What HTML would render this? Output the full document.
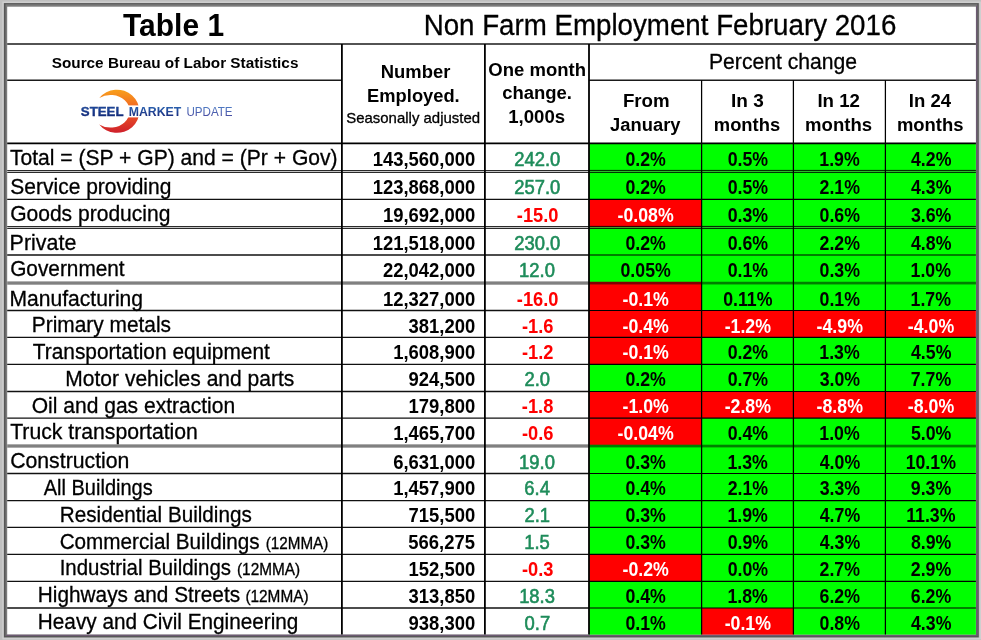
<!DOCTYPE html><html><head><meta charset="utf-8"><title>Table 1</title><style>html,body{margin:0;padding:0;background:#c0c0c0}svg{display:block}text{font-family:"Liberation Sans",sans-serif}</style></head><body>
<svg width="981" height="640" viewBox="0 0 981 640">
<defs><linearGradient id="og" gradientUnits="userSpaceOnUse" x1="0" y1="89.5" x2="0" y2="133"><stop offset="0" stop-color="#f9a11b"/><stop offset="0.5" stop-color="#ee5a24"/><stop offset="1" stop-color="#cf1f2b"/></linearGradient><linearGradient id="bg1" gradientUnits="userSpaceOnUse" x1="0" y1="106.5" x2="0" y2="116"><stop offset="0" stop-color="#1f4fa3"/><stop offset="1" stop-color="#14297a"/></linearGradient><linearGradient id="bg2" gradientUnits="userSpaceOnUse" x1="0" y1="106.5" x2="0" y2="116"><stop offset="0" stop-color="#2a62b0"/><stop offset="1" stop-color="#1b2f80"/></linearGradient><linearGradient id="bg3" gradientUnits="userSpaceOnUse" x1="0" y1="106.5" x2="0" y2="116"><stop offset="0" stop-color="#4f7cc4"/><stop offset="1" stop-color="#4a4fa3"/></linearGradient></defs>
<rect x="0" y="0" width="981" height="640" fill="#c0c0c0"/>
<rect x="3.0" y="2.2" width="977.2" height="636.6" fill="none" stroke="#d2d2d2" stroke-width="1.2"/>
<rect x="3.9" y="3.1" width="974.9" height="634.3" fill="#575757"/>
<rect x="5.5" y="4.3" width="971.8" height="631.7" fill="#7b7b7b"/>
<path d="M977.3,4.3 V636 H5.5 L7.2,634.4 H975.9 V6.7 Z" fill="#6d5a73"/>
<rect x="7.2" y="6.7" width="968.6999999999999" height="627.6999999999999" fill="#ffffff"/>
<rect x="589.0" y="143.3" width="112.6" height="28.1" fill="#00ff00"/>
<rect x="701.6" y="143.3" width="91.8" height="28.1" fill="#00ff00"/>
<rect x="793.4" y="143.3" width="92.0" height="28.1" fill="#00ff00"/>
<rect x="885.4" y="143.3" width="90.5" height="28.1" fill="#00ff00"/>
<rect x="589.0" y="171.4" width="112.6" height="28.0" fill="#00ff00"/>
<rect x="701.6" y="171.4" width="91.8" height="28.0" fill="#00ff00"/>
<rect x="793.4" y="171.4" width="92.0" height="28.0" fill="#00ff00"/>
<rect x="885.4" y="171.4" width="90.5" height="28.0" fill="#00ff00"/>
<rect x="589.0" y="199.4" width="112.6" height="28.0" fill="#ff0000"/>
<rect x="701.6" y="199.4" width="91.8" height="28.0" fill="#00ff00"/>
<rect x="793.4" y="199.4" width="92.0" height="28.0" fill="#00ff00"/>
<rect x="885.4" y="199.4" width="90.5" height="28.0" fill="#00ff00"/>
<rect x="589.0" y="227.4" width="112.6" height="27.6" fill="#00ff00"/>
<rect x="701.6" y="227.4" width="91.8" height="27.6" fill="#00ff00"/>
<rect x="793.4" y="227.4" width="92.0" height="27.6" fill="#00ff00"/>
<rect x="885.4" y="227.4" width="90.5" height="27.6" fill="#00ff00"/>
<rect x="589.0" y="255.0" width="112.6" height="27.5" fill="#00ff00"/>
<rect x="701.6" y="255.0" width="91.8" height="27.5" fill="#00ff00"/>
<rect x="793.4" y="255.0" width="92.0" height="27.5" fill="#00ff00"/>
<rect x="885.4" y="255.0" width="90.5" height="27.5" fill="#00ff00"/>
<rect x="589.0" y="282.5" width="112.6" height="28.0" fill="#ff0000"/>
<rect x="701.6" y="282.5" width="91.8" height="28.0" fill="#00ff00"/>
<rect x="793.4" y="282.5" width="92.0" height="28.0" fill="#00ff00"/>
<rect x="885.4" y="282.5" width="90.5" height="28.0" fill="#00ff00"/>
<rect x="589.0" y="310.5" width="112.6" height="26.8" fill="#ff0000"/>
<rect x="701.6" y="310.5" width="91.8" height="26.8" fill="#ff0000"/>
<rect x="793.4" y="310.5" width="92.0" height="26.8" fill="#ff0000"/>
<rect x="885.4" y="310.5" width="90.5" height="26.8" fill="#ff0000"/>
<rect x="589.0" y="337.3" width="112.6" height="27.1" fill="#ff0000"/>
<rect x="701.6" y="337.3" width="91.8" height="27.1" fill="#00ff00"/>
<rect x="793.4" y="337.3" width="92.0" height="27.1" fill="#00ff00"/>
<rect x="885.4" y="337.3" width="90.5" height="27.1" fill="#00ff00"/>
<rect x="589.0" y="364.4" width="112.6" height="27.1" fill="#00ff00"/>
<rect x="701.6" y="364.4" width="91.8" height="27.1" fill="#00ff00"/>
<rect x="793.4" y="364.4" width="92.0" height="27.1" fill="#00ff00"/>
<rect x="885.4" y="364.4" width="90.5" height="27.1" fill="#00ff00"/>
<rect x="589.0" y="391.5" width="112.6" height="26.6" fill="#ff0000"/>
<rect x="701.6" y="391.5" width="91.8" height="26.6" fill="#ff0000"/>
<rect x="793.4" y="391.5" width="92.0" height="26.6" fill="#ff0000"/>
<rect x="885.4" y="391.5" width="90.5" height="26.6" fill="#ff0000"/>
<rect x="589.0" y="418.1" width="112.6" height="27.7" fill="#ff0000"/>
<rect x="701.6" y="418.1" width="91.8" height="27.7" fill="#00ff00"/>
<rect x="793.4" y="418.1" width="92.0" height="27.7" fill="#00ff00"/>
<rect x="885.4" y="418.1" width="90.5" height="27.7" fill="#00ff00"/>
<rect x="589.0" y="445.8" width="112.6" height="27.7" fill="#00ff00"/>
<rect x="701.6" y="445.8" width="91.8" height="27.7" fill="#00ff00"/>
<rect x="793.4" y="445.8" width="92.0" height="27.7" fill="#00ff00"/>
<rect x="885.4" y="445.8" width="90.5" height="27.7" fill="#00ff00"/>
<rect x="589.0" y="473.5" width="112.6" height="27.1" fill="#00ff00"/>
<rect x="701.6" y="473.5" width="91.8" height="27.1" fill="#00ff00"/>
<rect x="793.4" y="473.5" width="92.0" height="27.1" fill="#00ff00"/>
<rect x="885.4" y="473.5" width="90.5" height="27.1" fill="#00ff00"/>
<rect x="589.0" y="500.6" width="112.6" height="26.7" fill="#00ff00"/>
<rect x="701.6" y="500.6" width="91.8" height="26.7" fill="#00ff00"/>
<rect x="793.4" y="500.6" width="92.0" height="26.7" fill="#00ff00"/>
<rect x="885.4" y="500.6" width="90.5" height="26.7" fill="#00ff00"/>
<rect x="589.0" y="527.3" width="112.6" height="27.1" fill="#00ff00"/>
<rect x="701.6" y="527.3" width="91.8" height="27.1" fill="#00ff00"/>
<rect x="793.4" y="527.3" width="92.0" height="27.1" fill="#00ff00"/>
<rect x="885.4" y="527.3" width="90.5" height="27.1" fill="#00ff00"/>
<rect x="589.0" y="554.4" width="112.6" height="26.9" fill="#ff0000"/>
<rect x="701.6" y="554.4" width="91.8" height="26.9" fill="#00ff00"/>
<rect x="793.4" y="554.4" width="92.0" height="26.9" fill="#00ff00"/>
<rect x="885.4" y="554.4" width="90.5" height="26.9" fill="#00ff00"/>
<rect x="589.0" y="581.3" width="112.6" height="26.7" fill="#00ff00"/>
<rect x="701.6" y="581.3" width="91.8" height="26.7" fill="#00ff00"/>
<rect x="793.4" y="581.3" width="92.0" height="26.7" fill="#00ff00"/>
<rect x="885.4" y="581.3" width="90.5" height="26.7" fill="#00ff00"/>
<rect x="589.0" y="608.0" width="112.6" height="26.6" fill="#00ff00"/>
<rect x="701.6" y="608.0" width="91.8" height="26.6" fill="#ff0000"/>
<rect x="793.4" y="608.0" width="92.0" height="26.6" fill="#00ff00"/>
<rect x="885.4" y="608.0" width="90.5" height="26.6" fill="#00ff00"/>
<line x1="7.2" y1="44.0" x2="975.9" y2="44.0" stroke="#1a1a1a" stroke-width="1.6"/>
<line x1="7.2" y1="80.3" x2="341.9" y2="80.3" stroke="#1a1a1a" stroke-width="1.5"/>
<line x1="589.0" y1="80.3" x2="975.9" y2="80.3" stroke="#1a1a1a" stroke-width="1.5"/>
<line x1="7.2" y1="143.3" x2="975.9" y2="143.3" stroke="#000" stroke-width="1.7"/>
<rect x="7.2" y="170.8" width="581.8" height="1.2" fill="#c4c4c4"/>
<rect x="589.0" y="170.0" width="386.9" height="2.8" fill="#000" fill-opacity="0.2"/>
<line x1="7.2" y1="170.4" x2="589.0" y2="170.4" stroke="#2a2a2a" stroke-width="1.05"/>
<line x1="7.2" y1="172.4" x2="589.0" y2="172.4" stroke="#2a2a2a" stroke-width="1.05"/>
<line x1="589.0" y1="170.4" x2="975.9" y2="170.4" stroke="#000" stroke-width="0.85"/>
<line x1="589.0" y1="172.4" x2="975.9" y2="172.4" stroke="#000" stroke-width="0.85"/>
<line x1="7.2" y1="199.4" x2="589.0" y2="199.4" stroke="#111" stroke-width="1.3"/>
<line x1="589.0" y1="199.4" x2="975.9" y2="199.4" stroke="#000" stroke-width="1.15"/>
<rect x="7.2" y="226.8" width="581.8" height="1.2" fill="#c4c4c4"/>
<rect x="589.0" y="226.0" width="386.9" height="2.8" fill="#000" fill-opacity="0.2"/>
<line x1="7.2" y1="226.4" x2="589.0" y2="226.4" stroke="#2a2a2a" stroke-width="1.05"/>
<line x1="7.2" y1="228.4" x2="589.0" y2="228.4" stroke="#2a2a2a" stroke-width="1.05"/>
<line x1="589.0" y1="226.4" x2="975.9" y2="226.4" stroke="#000" stroke-width="0.85"/>
<line x1="589.0" y1="228.4" x2="975.9" y2="228.4" stroke="#000" stroke-width="0.85"/>
<line x1="7.2" y1="255.0" x2="589.0" y2="255.0" stroke="#111" stroke-width="1.3"/>
<line x1="589.0" y1="255.0" x2="975.9" y2="255.0" stroke="#000" stroke-width="1.15"/>
<rect x="7.2" y="281.40" width="581.8" height="3.3" fill="#808080"/>
<rect x="589.0" y="281.75" width="112.6" height="2.7" fill="#800000"/>
<rect x="701.6" y="281.75" width="91.8" height="2.7" fill="#008000"/>
<rect x="793.4" y="281.75" width="92.0" height="2.7" fill="#008000"/>
<rect x="885.4" y="281.75" width="90.5" height="2.7" fill="#008000"/>
<line x1="7.2" y1="310.5" x2="589.0" y2="310.5" stroke="#111" stroke-width="1.3"/>
<line x1="589.0" y1="310.5" x2="975.9" y2="310.5" stroke="#000" stroke-width="1.15"/>
<line x1="7.2" y1="337.3" x2="589.0" y2="337.3" stroke="#111" stroke-width="1.3"/>
<line x1="589.0" y1="337.3" x2="975.9" y2="337.3" stroke="#000" stroke-width="1.15"/>
<line x1="7.2" y1="364.4" x2="589.0" y2="364.4" stroke="#111" stroke-width="1.3"/>
<line x1="589.0" y1="364.4" x2="975.9" y2="364.4" stroke="#000" stroke-width="1.15"/>
<line x1="7.2" y1="391.5" x2="589.0" y2="391.5" stroke="#111" stroke-width="1.3"/>
<line x1="589.0" y1="391.5" x2="975.9" y2="391.5" stroke="#000" stroke-width="1.15"/>
<line x1="7.2" y1="418.1" x2="589.0" y2="418.1" stroke="#111" stroke-width="1.3"/>
<line x1="589.0" y1="418.1" x2="975.9" y2="418.1" stroke="#000" stroke-width="1.15"/>
<rect x="7.2" y="444.35" width="581.8" height="3.3" fill="#808080"/>
<rect x="589.0" y="444.70" width="112.6" height="2.7" fill="#008000"/>
<rect x="701.6" y="444.70" width="91.8" height="2.7" fill="#008000"/>
<rect x="793.4" y="444.70" width="92.0" height="2.7" fill="#008000"/>
<rect x="885.4" y="444.70" width="90.5" height="2.7" fill="#008000"/>
<line x1="7.2" y1="473.5" x2="589.0" y2="473.5" stroke="#111" stroke-width="1.3"/>
<line x1="589.0" y1="473.5" x2="975.9" y2="473.5" stroke="#000" stroke-width="1.15"/>
<line x1="7.2" y1="500.6" x2="589.0" y2="500.6" stroke="#111" stroke-width="1.3"/>
<line x1="589.0" y1="500.6" x2="975.9" y2="500.6" stroke="#000" stroke-width="1.15"/>
<line x1="7.2" y1="527.3" x2="589.0" y2="527.3" stroke="#111" stroke-width="1.3"/>
<line x1="589.0" y1="527.3" x2="975.9" y2="527.3" stroke="#000" stroke-width="1.15"/>
<line x1="7.2" y1="554.4" x2="589.0" y2="554.4" stroke="#111" stroke-width="1.3"/>
<line x1="589.0" y1="554.4" x2="975.9" y2="554.4" stroke="#000" stroke-width="1.15"/>
<line x1="7.2" y1="581.3" x2="589.0" y2="581.3" stroke="#111" stroke-width="1.3"/>
<line x1="589.0" y1="581.3" x2="975.9" y2="581.3" stroke="#000" stroke-width="1.15"/>
<line x1="7.2" y1="608.0" x2="589.0" y2="608.0" stroke="#111" stroke-width="1.3"/>
<line x1="589.0" y1="608.0" x2="975.9" y2="608.0" stroke="#000" stroke-width="1.15"/>
<line x1="341.9" y1="44.0" x2="341.9" y2="634.4" stroke="#000" stroke-width="1.8"/>
<line x1="484.9" y1="44.0" x2="484.9" y2="634.4" stroke="#000" stroke-width="1.8"/>
<line x1="589.0" y1="44.0" x2="589.0" y2="634.4" stroke="#000" stroke-width="1.8"/>
<line x1="701.6" y1="80.3" x2="701.6" y2="634.4" stroke="#000" stroke-width="1.25"/>
<line x1="793.4" y1="80.3" x2="793.4" y2="634.4" stroke="#000" stroke-width="1.25"/>
<line x1="885.4" y1="80.3" x2="885.4" y2="634.4" stroke="#000" stroke-width="1.25"/>
<text x="123.00" y="35.8" font-size="31.62" textLength="101.10" lengthAdjust="spacingAndGlyphs" font-weight="bold">Table 1</text>
<text x="423.68" y="34.6" font-size="28.60" textLength="472.65" lengthAdjust="spacingAndGlyphs" stroke="#000" stroke-width="0.3">Non Farm Employment February 2016</text>
<text x="51.74" y="67.8" font-size="15.18" textLength="246.67" lengthAdjust="spacingAndGlyphs" font-weight="bold">Source Bureau of Labor Statistics</text>
<text x="380.80" y="77.5" font-size="18.82" textLength="69.54" lengthAdjust="spacingAndGlyphs" font-weight="bold">Number</text>
<text x="367.11" y="101.7" font-size="18.82" textLength="92.61" lengthAdjust="spacingAndGlyphs" font-weight="bold">Employed.</text>
<text x="346.23" y="122.6" font-size="15.18" textLength="133.86" lengthAdjust="spacingAndGlyphs" stroke="#000" stroke-width="0.3">Seasonally adjusted</text>
<text x="488.36" y="75.7" font-size="18.93" textLength="97.59" lengthAdjust="spacingAndGlyphs" font-weight="bold">One month</text>
<text x="502.16" y="99.2" font-size="18.93" textLength="69.81" lengthAdjust="spacingAndGlyphs" font-weight="bold">change.</text>
<text x="508.29" y="123.2" font-size="18.93" textLength="56.83" lengthAdjust="spacingAndGlyphs" font-weight="bold">1,000s</text>
<text x="709.01" y="68.9" font-size="21.53" textLength="148.04" lengthAdjust="spacingAndGlyphs" stroke="#000" stroke-width="0.3">Percent change</text>
<text x="622.89" y="106.9" font-size="19.14" textLength="46.73" lengthAdjust="spacingAndGlyphs" font-weight="bold">From</text>
<text x="610.12" y="130.7" font-size="19.14" textLength="70.38" lengthAdjust="spacingAndGlyphs" font-weight="bold">January</text>
<text x="731.06" y="106.9" font-size="19.14" textLength="32.75" lengthAdjust="spacingAndGlyphs" font-weight="bold">In 3</text>
<text x="713.81" y="130.9" font-size="19.14" textLength="66.35" lengthAdjust="spacingAndGlyphs" font-weight="bold">months</text>
<text x="817.39" y="106.9" font-size="19.14" textLength="42.54" lengthAdjust="spacingAndGlyphs" font-weight="bold">In 12</text>
<text x="805.09" y="130.9" font-size="19.14" textLength="66.96" lengthAdjust="spacingAndGlyphs" font-weight="bold">months</text>
<text x="908.79" y="106.9" font-size="19.14" textLength="42.28" lengthAdjust="spacingAndGlyphs" font-weight="bold">In 24</text>
<text x="896.90" y="130.9" font-size="19.14" textLength="66.66" lengthAdjust="spacingAndGlyphs" font-weight="bold">months</text>
<g id="logo">
<path d="M99.3,98.0 A22.4,21.6 0 1 1 99.2,124.4 A19.15,16.3 0 1 0 99.3,98.0 Z" fill="url(#og)"/>
<rect x="78" y="105.4" width="160" height="12" fill="#fff"/>
<text x="80.8" y="115.6" font-size="12.2" font-weight="bold" fill="url(#bg1)" stroke="#17357f" stroke-width="0.35" textLength="42.7" lengthAdjust="spacingAndGlyphs">STEEL</text>
<text x="128.7" y="115.6" font-size="12.2" font-weight="bold" fill="url(#bg2)" textLength="52.5" lengthAdjust="spacingAndGlyphs">MARKET</text>
<text x="186.4" y="115.6" font-size="12.2" fill="url(#bg3)" textLength="46.2" lengthAdjust="spacingAndGlyphs">UPDATE</text>
</g>
<text x="9.97" y="165.1" font-size="21.53" textLength="327.58" lengthAdjust="spacingAndGlyphs" stroke="#000" stroke-width="0.3">Total = (SP + GP) and = (Pr + Gov)</text>
<text x="372.66" y="165.7" font-size="19.76" textLength="102.60" lengthAdjust="spacingAndGlyphs" font-weight="bold">143,560,000</text>
<text x="514.21" y="165.7" font-size="19.76" textLength="46.05" lengthAdjust="spacingAndGlyphs" fill="#1e8c5a" stroke="#1e8c5a" stroke-width="0.6">242.0</text>
<text x="625.44" y="165.7" font-size="19.76" textLength="40.45" lengthAdjust="spacingAndGlyphs" font-weight="bold" fill="#000000">0.2%</text>
<text x="727.64" y="165.7" font-size="19.76" textLength="40.45" lengthAdjust="spacingAndGlyphs" font-weight="bold" fill="#000000">0.5%</text>
<text x="819.32" y="165.7" font-size="19.76" textLength="40.45" lengthAdjust="spacingAndGlyphs" font-weight="bold" fill="#000000">1.9%</text>
<text x="911.01" y="165.7" font-size="19.76" textLength="40.45" lengthAdjust="spacingAndGlyphs" font-weight="bold" fill="#000000">4.2%</text>
<text x="10.31" y="193.6" font-size="21.53" textLength="161.07" lengthAdjust="spacingAndGlyphs" stroke="#000" stroke-width="0.3">Service providing</text>
<text x="372.66" y="194.2" font-size="19.76" textLength="102.60" lengthAdjust="spacingAndGlyphs" font-weight="bold">123,868,000</text>
<text x="514.21" y="194.2" font-size="19.76" textLength="46.05" lengthAdjust="spacingAndGlyphs" fill="#1e8c5a" stroke="#1e8c5a" stroke-width="0.6">257.0</text>
<text x="625.44" y="194.2" font-size="19.76" textLength="40.45" lengthAdjust="spacingAndGlyphs" font-weight="bold" fill="#000000">0.2%</text>
<text x="727.64" y="194.2" font-size="19.76" textLength="40.45" lengthAdjust="spacingAndGlyphs" font-weight="bold" fill="#000000">0.5%</text>
<text x="819.58" y="194.2" font-size="19.76" textLength="40.45" lengthAdjust="spacingAndGlyphs" font-weight="bold" fill="#000000">2.1%</text>
<text x="911.01" y="194.2" font-size="19.76" textLength="40.45" lengthAdjust="spacingAndGlyphs" font-weight="bold" fill="#000000">4.3%</text>
<text x="10.15" y="221.0" font-size="21.53" textLength="160.25" lengthAdjust="spacingAndGlyphs" stroke="#000" stroke-width="0.3">Goods producing</text>
<text x="382.90" y="221.6" font-size="19.76" textLength="92.34" lengthAdjust="spacingAndGlyphs" font-weight="bold">19,692,000</text>
<text x="516.84" y="221.6" font-size="19.76" textLength="41.71" lengthAdjust="spacingAndGlyphs" font-weight="bold" fill="#ff0000">-15.0</text>
<text x="617.54" y="221.6" font-size="19.76" textLength="56.23" lengthAdjust="spacingAndGlyphs" font-weight="bold" fill="#ffffff">-0.08%</text>
<text x="727.64" y="221.6" font-size="19.76" textLength="40.45" lengthAdjust="spacingAndGlyphs" font-weight="bold" fill="#000000">0.3%</text>
<text x="819.54" y="221.6" font-size="19.76" textLength="40.45" lengthAdjust="spacingAndGlyphs" font-weight="bold" fill="#000000">0.6%</text>
<text x="910.92" y="221.6" font-size="19.76" textLength="40.45" lengthAdjust="spacingAndGlyphs" font-weight="bold" fill="#000000">3.6%</text>
<text x="9.58" y="249.7" font-size="21.53" textLength="66.73" lengthAdjust="spacingAndGlyphs" stroke="#000" stroke-width="0.3">Private</text>
<text x="372.66" y="250.3" font-size="19.76" textLength="102.60" lengthAdjust="spacingAndGlyphs" font-weight="bold">121,518,000</text>
<text x="514.21" y="250.3" font-size="19.76" textLength="46.05" lengthAdjust="spacingAndGlyphs" fill="#1e8c5a" stroke="#1e8c5a" stroke-width="0.6">230.0</text>
<text x="625.44" y="250.3" font-size="19.76" textLength="40.45" lengthAdjust="spacingAndGlyphs" font-weight="bold" fill="#000000">0.2%</text>
<text x="727.64" y="250.3" font-size="19.76" textLength="40.45" lengthAdjust="spacingAndGlyphs" font-weight="bold" fill="#000000">0.6%</text>
<text x="819.58" y="250.3" font-size="19.76" textLength="40.45" lengthAdjust="spacingAndGlyphs" font-weight="bold" fill="#000000">2.2%</text>
<text x="911.01" y="250.3" font-size="19.76" textLength="40.45" lengthAdjust="spacingAndGlyphs" font-weight="bold" fill="#000000">4.8%</text>
<text x="10.16" y="276.4" font-size="21.53" textLength="114.50" lengthAdjust="spacingAndGlyphs" stroke="#000" stroke-width="0.3">Government</text>
<text x="382.90" y="277.0" font-size="19.76" textLength="92.34" lengthAdjust="spacingAndGlyphs" font-weight="bold">22,042,000</text>
<text x="519.08" y="277.0" font-size="19.76" textLength="35.81" lengthAdjust="spacingAndGlyphs" fill="#1e8c5a" stroke="#1e8c5a" stroke-width="0.6">12.0</text>
<text x="620.51" y="277.0" font-size="19.76" textLength="50.32" lengthAdjust="spacingAndGlyphs" font-weight="bold" fill="#000000">0.05%</text>
<text x="727.64" y="277.0" font-size="19.76" textLength="40.45" lengthAdjust="spacingAndGlyphs" font-weight="bold" fill="#000000">0.1%</text>
<text x="819.54" y="277.0" font-size="19.76" textLength="40.45" lengthAdjust="spacingAndGlyphs" font-weight="bold" fill="#000000">0.3%</text>
<text x="910.57" y="277.0" font-size="19.76" textLength="40.45" lengthAdjust="spacingAndGlyphs" font-weight="bold" fill="#000000">1.0%</text>
<text x="9.51" y="305.6" font-size="21.53" textLength="133.50" lengthAdjust="spacingAndGlyphs" stroke="#000" stroke-width="0.3">Manufacturing</text>
<text x="382.90" y="306.2" font-size="19.76" textLength="92.34" lengthAdjust="spacingAndGlyphs" font-weight="bold">12,327,000</text>
<text x="516.84" y="306.2" font-size="19.76" textLength="41.71" lengthAdjust="spacingAndGlyphs" font-weight="bold" fill="#ff0000">-16.0</text>
<text x="622.47" y="306.2" font-size="19.76" textLength="46.36" lengthAdjust="spacingAndGlyphs" font-weight="bold" fill="#ffffff">-0.1%</text>
<text x="723.20" y="306.2" font-size="19.76" textLength="49.34" lengthAdjust="spacingAndGlyphs" font-weight="bold" fill="#000000">0.11%</text>
<text x="819.54" y="306.2" font-size="19.76" textLength="40.45" lengthAdjust="spacingAndGlyphs" font-weight="bold" fill="#000000">0.1%</text>
<text x="910.57" y="306.2" font-size="19.76" textLength="40.45" lengthAdjust="spacingAndGlyphs" font-weight="bold" fill="#000000">1.7%</text>
<text x="31.83" y="332.3" font-size="21.53" textLength="139.15" lengthAdjust="spacingAndGlyphs" stroke="#000" stroke-width="0.3">Primary metals</text>
<text x="408.54" y="332.9" font-size="19.76" textLength="66.69" lengthAdjust="spacingAndGlyphs" font-weight="bold">381,200</text>
<text x="521.92" y="332.9" font-size="19.76" textLength="31.53" lengthAdjust="spacingAndGlyphs" font-weight="bold" fill="#ff0000">-1.6</text>
<text x="622.47" y="332.9" font-size="19.76" textLength="46.36" lengthAdjust="spacingAndGlyphs" font-weight="bold" fill="#ffffff">-0.4%</text>
<text x="724.67" y="332.9" font-size="19.76" textLength="46.36" lengthAdjust="spacingAndGlyphs" font-weight="bold" fill="#ffffff">-1.2%</text>
<text x="816.57" y="332.9" font-size="19.76" textLength="46.36" lengthAdjust="spacingAndGlyphs" font-weight="bold" fill="#ffffff">-4.9%</text>
<text x="907.82" y="332.9" font-size="19.76" textLength="46.36" lengthAdjust="spacingAndGlyphs" font-weight="bold" fill="#ffffff">-4.0%</text>
<text x="32.78" y="358.8" font-size="21.53" textLength="237.10" lengthAdjust="spacingAndGlyphs" stroke="#000" stroke-width="0.3">Transportation equipment</text>
<text x="393.14" y="359.4" font-size="19.76" textLength="82.08" lengthAdjust="spacingAndGlyphs" font-weight="bold">1,608,900</text>
<text x="521.96" y="359.4" font-size="19.76" textLength="31.53" lengthAdjust="spacingAndGlyphs" font-weight="bold" fill="#ff0000">-1.2</text>
<text x="622.47" y="359.4" font-size="19.76" textLength="46.36" lengthAdjust="spacingAndGlyphs" font-weight="bold" fill="#ffffff">-0.1%</text>
<text x="727.64" y="359.4" font-size="19.76" textLength="40.45" lengthAdjust="spacingAndGlyphs" font-weight="bold" fill="#000000">0.2%</text>
<text x="819.32" y="359.4" font-size="19.76" textLength="40.45" lengthAdjust="spacingAndGlyphs" font-weight="bold" fill="#000000">1.3%</text>
<text x="911.01" y="359.4" font-size="19.76" textLength="40.45" lengthAdjust="spacingAndGlyphs" font-weight="bold" fill="#000000">4.5%</text>
<text x="65.32" y="385.5" font-size="21.53" textLength="229.00" lengthAdjust="spacingAndGlyphs" stroke="#000" stroke-width="0.3">Motor vehicles and parts</text>
<text x="408.54" y="386.1" font-size="19.76" textLength="66.69" lengthAdjust="spacingAndGlyphs" font-weight="bold">924,500</text>
<text x="524.42" y="386.1" font-size="19.76" textLength="25.58" lengthAdjust="spacingAndGlyphs" fill="#1e8c5a" stroke="#1e8c5a" stroke-width="0.6">2.0</text>
<text x="625.44" y="386.1" font-size="19.76" textLength="40.45" lengthAdjust="spacingAndGlyphs" font-weight="bold" fill="#000000">0.2%</text>
<text x="727.64" y="386.1" font-size="19.76" textLength="40.45" lengthAdjust="spacingAndGlyphs" font-weight="bold" fill="#000000">0.7%</text>
<text x="819.67" y="386.1" font-size="19.76" textLength="40.45" lengthAdjust="spacingAndGlyphs" font-weight="bold" fill="#000000">3.0%</text>
<text x="910.74" y="386.1" font-size="19.76" textLength="40.45" lengthAdjust="spacingAndGlyphs" font-weight="bold" fill="#000000">7.7%</text>
<text x="31.75" y="412.7" font-size="21.53" textLength="203.36" lengthAdjust="spacingAndGlyphs" stroke="#000" stroke-width="0.3">Oil and gas extraction</text>
<text x="408.54" y="413.3" font-size="19.76" textLength="66.69" lengthAdjust="spacingAndGlyphs" font-weight="bold">179,800</text>
<text x="521.87" y="413.3" font-size="19.76" textLength="31.53" lengthAdjust="spacingAndGlyphs" font-weight="bold" fill="#ff0000">-1.8</text>
<text x="622.47" y="413.3" font-size="19.76" textLength="46.36" lengthAdjust="spacingAndGlyphs" font-weight="bold" fill="#ffffff">-1.0%</text>
<text x="724.67" y="413.3" font-size="19.76" textLength="46.36" lengthAdjust="spacingAndGlyphs" font-weight="bold" fill="#ffffff">-2.8%</text>
<text x="816.57" y="413.3" font-size="19.76" textLength="46.36" lengthAdjust="spacingAndGlyphs" font-weight="bold" fill="#ffffff">-8.8%</text>
<text x="907.82" y="413.3" font-size="19.76" textLength="46.36" lengthAdjust="spacingAndGlyphs" font-weight="bold" fill="#ffffff">-8.0%</text>
<text x="10.17" y="439.2" font-size="21.53" textLength="187.72" lengthAdjust="spacingAndGlyphs" stroke="#000" stroke-width="0.3">Truck transportation</text>
<text x="393.14" y="439.8" font-size="19.76" textLength="82.08" lengthAdjust="spacingAndGlyphs" font-weight="bold">1,465,700</text>
<text x="521.92" y="439.8" font-size="19.76" textLength="31.53" lengthAdjust="spacingAndGlyphs" font-weight="bold" fill="#ff0000">-0.6</text>
<text x="617.54" y="439.8" font-size="19.76" textLength="56.23" lengthAdjust="spacingAndGlyphs" font-weight="bold" fill="#ffffff">-0.04%</text>
<text x="727.64" y="439.8" font-size="19.76" textLength="40.45" lengthAdjust="spacingAndGlyphs" font-weight="bold" fill="#000000">0.4%</text>
<text x="819.32" y="439.8" font-size="19.76" textLength="40.45" lengthAdjust="spacingAndGlyphs" font-weight="bold" fill="#000000">1.0%</text>
<text x="910.88" y="439.8" font-size="19.76" textLength="40.45" lengthAdjust="spacingAndGlyphs" font-weight="bold" fill="#000000">5.0%</text>
<text x="10.14" y="468.3" font-size="21.53" textLength="119.32" lengthAdjust="spacingAndGlyphs" stroke="#000" stroke-width="0.3">Construction</text>
<text x="393.14" y="468.9" font-size="19.76" textLength="82.08" lengthAdjust="spacingAndGlyphs" font-weight="bold">6,631,000</text>
<text x="519.08" y="468.9" font-size="19.76" textLength="35.81" lengthAdjust="spacingAndGlyphs" fill="#1e8c5a" stroke="#1e8c5a" stroke-width="0.6">19.0</text>
<text x="625.44" y="468.9" font-size="19.76" textLength="40.45" lengthAdjust="spacingAndGlyphs" font-weight="bold" fill="#000000">0.3%</text>
<text x="727.42" y="468.9" font-size="19.76" textLength="40.45" lengthAdjust="spacingAndGlyphs" font-weight="bold" fill="#000000">1.3%</text>
<text x="819.76" y="468.9" font-size="19.76" textLength="40.45" lengthAdjust="spacingAndGlyphs" font-weight="bold" fill="#000000">4.0%</text>
<text x="905.64" y="468.9" font-size="19.76" textLength="50.32" lengthAdjust="spacingAndGlyphs" font-weight="bold" fill="#000000">10.1%</text>
<text x="43.70" y="494.7" font-size="21.53" textLength="109.05" lengthAdjust="spacingAndGlyphs" stroke="#000" stroke-width="0.3">All Buildings</text>
<text x="393.14" y="495.3" font-size="19.76" textLength="82.08" lengthAdjust="spacingAndGlyphs" font-weight="bold">1,457,900</text>
<text x="524.33" y="495.3" font-size="19.76" textLength="25.58" lengthAdjust="spacingAndGlyphs" fill="#1e8c5a" stroke="#1e8c5a" stroke-width="0.6">6.4</text>
<text x="625.44" y="495.3" font-size="19.76" textLength="40.45" lengthAdjust="spacingAndGlyphs" font-weight="bold" fill="#000000">0.4%</text>
<text x="727.68" y="495.3" font-size="19.76" textLength="40.45" lengthAdjust="spacingAndGlyphs" font-weight="bold" fill="#000000">2.1%</text>
<text x="819.67" y="495.3" font-size="19.76" textLength="40.45" lengthAdjust="spacingAndGlyphs" font-weight="bold" fill="#000000">3.3%</text>
<text x="910.83" y="495.3" font-size="19.76" textLength="40.45" lengthAdjust="spacingAndGlyphs" font-weight="bold" fill="#000000">9.3%</text>
<text x="59.85" y="521.7" font-size="21.53" textLength="191.95" lengthAdjust="spacingAndGlyphs" stroke="#000" stroke-width="0.3">Residential Buildings</text>
<text x="408.54" y="522.3" font-size="19.76" textLength="66.69" lengthAdjust="spacingAndGlyphs" font-weight="bold">715,500</text>
<text x="524.51" y="522.3" font-size="19.76" textLength="25.58" lengthAdjust="spacingAndGlyphs" fill="#1e8c5a" stroke="#1e8c5a" stroke-width="0.6">2.1</text>
<text x="625.44" y="522.3" font-size="19.76" textLength="40.45" lengthAdjust="spacingAndGlyphs" font-weight="bold" fill="#000000">0.3%</text>
<text x="727.42" y="522.3" font-size="19.76" textLength="40.45" lengthAdjust="spacingAndGlyphs" font-weight="bold" fill="#000000">1.9%</text>
<text x="819.76" y="522.3" font-size="19.76" textLength="40.45" lengthAdjust="spacingAndGlyphs" font-weight="bold" fill="#000000">4.7%</text>
<text x="906.13" y="522.3" font-size="19.76" textLength="49.34" lengthAdjust="spacingAndGlyphs" font-weight="bold" fill="#000000">11.3%</text>
<text x="59.67" y="548.6" font-size="21.53" textLength="200.06" lengthAdjust="spacingAndGlyphs" stroke="#000" stroke-width="0.3">Commercial Buildings</text>
<text x="265.69" y="548.6" font-size="15.60" textLength="62.65" lengthAdjust="spacingAndGlyphs" stroke="#000" stroke-width="0.3">(12MMA)</text>
<text x="408.26" y="549.2" font-size="19.76" textLength="66.69" lengthAdjust="spacingAndGlyphs" font-weight="bold">566,275</text>
<text x="524.19" y="549.2" font-size="19.76" textLength="25.58" lengthAdjust="spacingAndGlyphs" fill="#1e8c5a" stroke="#1e8c5a" stroke-width="0.6">1.5</text>
<text x="625.44" y="549.2" font-size="19.76" textLength="40.45" lengthAdjust="spacingAndGlyphs" font-weight="bold" fill="#000000">0.3%</text>
<text x="727.64" y="549.2" font-size="19.76" textLength="40.45" lengthAdjust="spacingAndGlyphs" font-weight="bold" fill="#000000">0.9%</text>
<text x="819.76" y="549.2" font-size="19.76" textLength="40.45" lengthAdjust="spacingAndGlyphs" font-weight="bold" fill="#000000">4.3%</text>
<text x="910.88" y="549.2" font-size="19.76" textLength="40.45" lengthAdjust="spacingAndGlyphs" font-weight="bold" fill="#000000">8.9%</text>
<text x="59.66" y="575.4" font-size="21.53" textLength="171.33" lengthAdjust="spacingAndGlyphs" stroke="#000" stroke-width="0.3">Industrial Buildings</text>
<text x="236.98" y="575.4" font-size="15.60" textLength="63.17" lengthAdjust="spacingAndGlyphs" stroke="#000" stroke-width="0.3">(12MMA)</text>
<text x="408.54" y="576.0" font-size="19.76" textLength="66.69" lengthAdjust="spacingAndGlyphs" font-weight="bold">152,500</text>
<text x="521.92" y="576.0" font-size="19.76" textLength="31.53" lengthAdjust="spacingAndGlyphs" font-weight="bold" fill="#ff0000">-0.3</text>
<text x="622.47" y="576.0" font-size="19.76" textLength="46.36" lengthAdjust="spacingAndGlyphs" font-weight="bold" fill="#ffffff">-0.2%</text>
<text x="727.64" y="576.0" font-size="19.76" textLength="40.45" lengthAdjust="spacingAndGlyphs" font-weight="bold" fill="#000000">0.0%</text>
<text x="819.58" y="576.0" font-size="19.76" textLength="40.45" lengthAdjust="spacingAndGlyphs" font-weight="bold" fill="#000000">2.7%</text>
<text x="910.83" y="576.0" font-size="19.76" textLength="40.45" lengthAdjust="spacingAndGlyphs" font-weight="bold" fill="#000000">2.9%</text>
<text x="37.84" y="602.1" font-size="21.53" textLength="202.24" lengthAdjust="spacingAndGlyphs" stroke="#000" stroke-width="0.3">Highways and Streets</text>
<text x="245.38" y="602.1" font-size="15.60" textLength="63.27" lengthAdjust="spacingAndGlyphs" stroke="#000" stroke-width="0.3">(12MMA)</text>
<text x="408.54" y="602.7" font-size="19.76" textLength="66.69" lengthAdjust="spacingAndGlyphs" font-weight="bold">313,850</text>
<text x="519.13" y="602.7" font-size="19.76" textLength="35.81" lengthAdjust="spacingAndGlyphs" fill="#1e8c5a" stroke="#1e8c5a" stroke-width="0.6">18.3</text>
<text x="625.44" y="602.7" font-size="19.76" textLength="40.45" lengthAdjust="spacingAndGlyphs" font-weight="bold" fill="#000000">0.4%</text>
<text x="727.42" y="602.7" font-size="19.76" textLength="40.45" lengthAdjust="spacingAndGlyphs" font-weight="bold" fill="#000000">1.8%</text>
<text x="819.58" y="602.7" font-size="19.76" textLength="40.45" lengthAdjust="spacingAndGlyphs" font-weight="bold" fill="#000000">6.2%</text>
<text x="910.83" y="602.7" font-size="19.76" textLength="40.45" lengthAdjust="spacingAndGlyphs" font-weight="bold" fill="#000000">6.2%</text>
<text x="37.84" y="628.9" font-size="21.53" textLength="260.57" lengthAdjust="spacingAndGlyphs" stroke="#000" stroke-width="0.3">Heavy and Civil Engineering</text>
<text x="408.54" y="629.5" font-size="19.76" textLength="66.69" lengthAdjust="spacingAndGlyphs" font-weight="bold">938,300</text>
<text x="524.60" y="629.5" font-size="19.76" textLength="25.58" lengthAdjust="spacingAndGlyphs" fill="#1e8c5a" stroke="#1e8c5a" stroke-width="0.6">0.7</text>
<text x="625.44" y="629.5" font-size="19.76" textLength="40.45" lengthAdjust="spacingAndGlyphs" font-weight="bold" fill="#000000">0.1%</text>
<text x="724.67" y="629.5" font-size="19.76" textLength="46.36" lengthAdjust="spacingAndGlyphs" font-weight="bold" fill="#ffffff">-0.1%</text>
<text x="819.54" y="629.5" font-size="19.76" textLength="40.45" lengthAdjust="spacingAndGlyphs" font-weight="bold" fill="#000000">0.8%</text>
<text x="911.01" y="629.5" font-size="19.76" textLength="40.45" lengthAdjust="spacingAndGlyphs" font-weight="bold" fill="#000000">4.3%</text>
</svg></body></html>
